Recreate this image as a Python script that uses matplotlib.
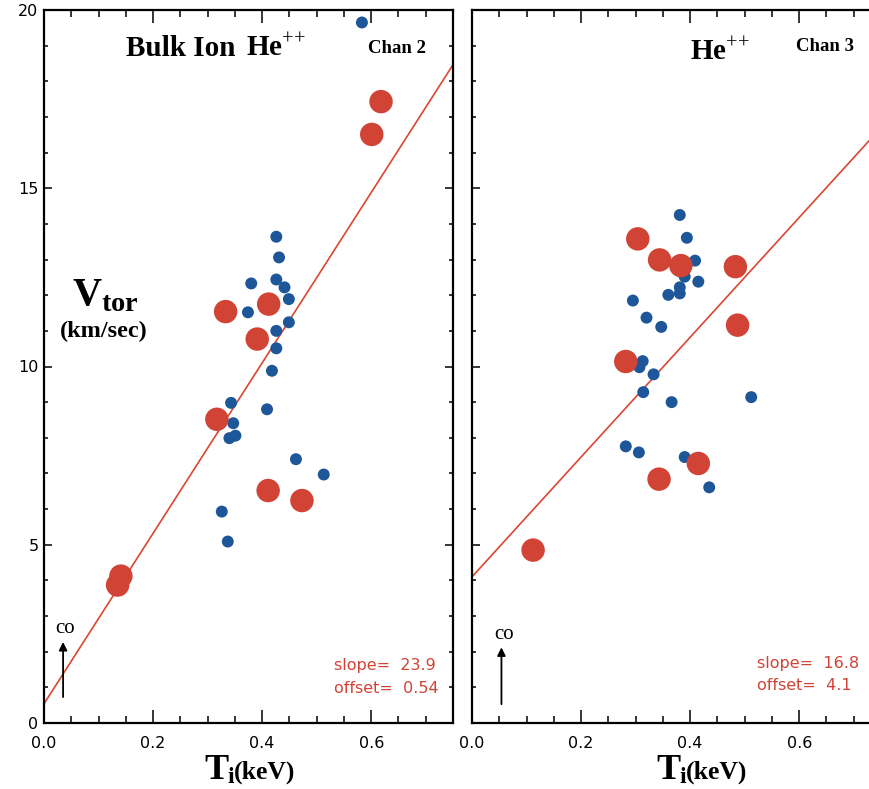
import matplotlib
matplotlib.use('Agg')
import matplotlib.pyplot as plt
import numpy as np

plt.rcParams['mathtext.fontset'] = 'custom'
plt.rcParams['mathtext.rm'] = 'Liberation Serif'
plt.rcParams['mathtext.bf'] = 'Liberation Serif:bold'
plt.rcParams['font.family'] = 'DejaVu Sans'

# Chan 2 (left panel)
chan2_blue_x = [0.583, 0.426, 0.431, 0.380, 0.426, 0.441, 0.449, 0.374, 0.449, 0.426, 0.426,
                0.418, 0.343, 0.347, 0.409, 0.340, 0.351, 0.462, 0.513, 0.326, 0.337]
chan2_blue_y = [19.65, 13.64, 13.06, 12.33, 12.44, 12.22, 11.89, 11.52, 11.24, 11.00, 10.51,
                9.88, 8.98, 8.41, 8.80, 7.99, 8.06, 7.40, 6.97, 5.93, 5.09]
chan2_red_x = [0.618, 0.601, 0.333, 0.412, 0.391, 0.317, 0.411, 0.473, 0.141, 0.135]
chan2_red_y = [17.43, 16.51, 11.54, 11.75, 10.77, 8.52, 6.52, 6.24, 4.12, 3.87]
chan2_fit = (23.9, 0.54)   # slope, offset

# Chan 3 (right panel)
chan3_blue_x = [0.381, 0.394, 0.409, 0.390, 0.415, 0.381, 0.381, 0.360, 0.295, 0.320, 0.347,
                0.313, 0.307, 0.333, 0.314, 0.366, 0.512, 0.282, 0.306, 0.390, 0.435]
chan3_blue_y = [14.25, 13.61, 12.97, 12.52, 12.38, 12.22, 12.05, 12.01, 11.85, 11.37, 11.11,
                10.15, 9.98, 9.78, 9.28, 9.00, 9.14, 7.76, 7.59, 7.46, 6.61]
chan3_red_x = [0.304, 0.344, 0.383, 0.483, 0.487, 0.282, 0.415, 0.343, 0.112]
chan3_red_y = [13.58, 12.99, 12.83, 12.80, 11.16, 10.14, 7.28, 6.84, 4.85]
chan3_fit = (16.8, 4.1)

red = '#d14335'
blue = '#1d5699'
line_red = '#d9472f'

fig = plt.figure(figsize=(8.69, 7.89), dpi=100)
ax1 = fig.add_axes([44/869, 66/789, 409/869, 713/789])
ax2 = fig.add_axes([472/869, 66/789, 409/869, 713/789])


def style(ax, ylabels=True):
    ax.set_xlim(0, 0.75)
    ax.set_ylim(0, 20)
    ax.set_xticks([0.0, 0.2, 0.4, 0.6])
    ax.set_xticks(np.arange(0, 0.75, 0.05), minor=True)
    ax.set_yticks([0, 5, 10, 15, 20])
    ax.set_yticks(np.arange(0, 21, 1), minor=True)
    ax.tick_params(axis='both', which='both', direction='in', top=True, right=True,
                   width=1.1, labelsize=11.5)
    ax.tick_params(axis='x', which='major', length=9.5, pad=9.5)
    ax.tick_params(axis='x', which='minor', length=4.7)
    ax.tick_params(axis='y', which='major', length=6, pad=4)
    ax.tick_params(axis='y', which='minor', length=3)
    ax.xaxis.set_major_formatter(matplotlib.ticker.FormatStrFormatter('%.1f'))
    if not ylabels:
        ax.set_yticklabels([])
    for s in ax.spines.values():
        s.set_linewidth(1.6)


for ax, bx, by, rx, ry, fit in [
        (ax1, chan2_blue_x, chan2_blue_y, chan2_red_x, chan2_red_y, chan2_fit),
        (ax2, chan3_blue_x, chan3_blue_y, chan3_red_x, chan3_red_y, chan3_fit)]:
    xx = np.array([0, 0.75])
    ax.plot(xx, fit[1] + fit[0] * xx, color=line_red, lw=1.2, zorder=2)
    ax.scatter(bx, by, s=74, color=blue, edgecolors='none', zorder=3)
    ax.scatter(rx, ry, s=285, color=red, edgecolors='none', zorder=4)

style(ax1)
style(ax2, ylabels=False)

serif = 'Liberation Serif'

# titles
ax1.text(0.150, 18.71, 'Bulk Ion', fontsize=21, fontweight='bold', family=serif, va='baseline')
ax1.text(0.371, 18.71, 'He$^{{+}{+}}$', fontsize=21, fontweight='bold', family=serif,
         va='baseline')
ax1.text(0.595, 18.79, 'Chan 2', fontsize=13.5, fontweight='bold', family=serif, va='baseline')
ax2.text(0.400, 18.6, 'He$^{{+}{+}}$', fontsize=21, fontweight='bold', family=serif,
         va='baseline')
ax2.text(0.594, 18.85, 'Chan 3', fontsize=13.5, fontweight='bold', family=serif, va='baseline')

# y label
ax1.text(0.051, 11.72, r'$\mathbf{V}_{\mathbf{tor}}$', fontsize=29, va='baseline')
ax1.text(0.029, 10.83, '(km/sec)', fontsize=17.5, fontweight='bold', family=serif,
         va='baseline')

# x labels
for ax, x0 in [(ax1, 0.2946), (ax2, 0.338)]:
    ax.text(x0, -1.571, 'T', fontsize=26, fontweight='bold', family=serif, va='baseline')
    ax.text(x0 + 0.042, -1.683, 'i', fontsize=17, fontweight='bold', family=serif,
            va='baseline')
    ax.text(x0 + 0.054, -1.56, '(keV)', fontsize=18.5, fontweight='bold', family=serif,
            va='baseline')

# fit annotations
ax1.text(0.531, 1.60, 'slope=  %.1f' % chan2_fit[0], color=red, fontsize=11.5, va='center')
ax1.text(0.531, 0.98, 'offset=  %.2f' % chan2_fit[1], color=red, fontsize=11.5, va='center')
ax2.text(0.523, 1.655, 'slope=  %.1f' % chan3_fit[0], color=red, fontsize=11.5, va='center')
ax2.text(0.523, 1.04, 'offset=  %.1f' % chan3_fit[1], color=red, fontsize=11.5, va='center')

# co-current arrows
for ax, x, y0, y1, yt in [(ax1, 0.035, 0.65, 2.35, 2.66), (ax2, 0.054, 0.45, 2.2, 2.47)]:
    ax.annotate('', xy=(x, y1), xytext=(x, y0),
                arrowprops=dict(arrowstyle='-|>', color='black', lw=1.3, mutation_scale=12))
    ax.text(x + 0.004, yt, 'co', fontsize=15, family=serif, ha='center', va='center')

fig.savefig('out.png', dpi=100)
